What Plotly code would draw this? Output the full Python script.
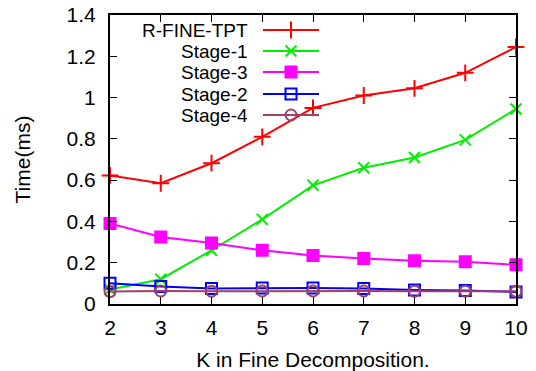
import plotly.graph_objects as go

k_values = [2, 3, 4, 5, 6, 7, 8, 9, 10]
r_fine_tpt = [0.623, 0.585, 0.682, 0.81, 0.95, 1.01, 1.045, 1.12, 1.245]
stage1 = [0.07, 0.12, 0.26, 0.41, 0.575, 0.66, 0.71, 0.795, 0.945]
stage3 = [0.39, 0.325, 0.295, 0.26, 0.235, 0.22, 0.21, 0.205, 0.19]
stage2 = [0.1, 0.085, 0.075, 0.077, 0.077, 0.075, 0.068, 0.065, 0.058]
stage4 = [0.06, 0.063, 0.062, 0.063, 0.063, 0.063, 0.062, 0.062, 0.062]
y_ticks = [0, 0.2, 0.4, 0.6, 0.8, 1, 1.2, 1.4]
y_tick_labels = ["0", "0.2", "0.4", "0.6", "0.8", "1", "1.2", "1.4"]

series = [
    ("R-FINE-TPT", r_fine_tpt, "#ff0000", "cross-thin-open", 12),
    ("Stage-1", stage1, "#00ee00", "x-thin-open", 11),
    ("Stage-3", stage3, "#ff00ff", "square", 11),
    ("Stage-2", stage2, "#0000ff", "square-open", 11),
    ("Stage-4", stage4, "#a0406a", "circle-open", 11),
]

FONT = "Liberation Sans, Arial, sans-serif"
fig = go.Figure()

for name, vals, col, sym, sz in series:
    fig.add_trace(go.Scatter(
        x=k_values, y=vals, mode="lines+markers", name=name,
        line=dict(color=col, width=2),
        marker=dict(symbol=sym, size=sz, color=col,
                    line=dict(color=col, width=2)),
        showlegend=False, cliponaxis=False))

# gnuplot-style key: text right-aligned with sample on the right (pixel axes)
legend_rows = [30, 51, 72, 94, 115]
annotations = []
for (name, vals, col, sym, sz), yy in zip(series, legend_rows):
    fig.add_trace(go.Scatter(
        x=[263, 319], y=[yy, yy], mode="lines", xaxis="x2", yaxis="y2",
        line=dict(color=col, width=2), showlegend=False, hoverinfo="skip"))
    fig.add_trace(go.Scatter(
        x=[291], y=[yy], mode="markers", xaxis="x2", yaxis="y2",
        marker=dict(symbol=sym, size=sz, color=col, line=dict(color=col, width=2)),
        showlegend=False, hoverinfo="skip"))
    annotations.append(dict(x=249, y=yy, xref="x2", yref="y2", text=name,
                            showarrow=False, xanchor="right", yanchor="middle",
                            borderpad=0,
                            font=dict(family=FONT, size=19, color="black")))

fig.update_layout(
    width=536, height=371,
    margin=dict(l=110, r=20, t=15, b=67),
    paper_bgcolor="white", plot_bgcolor="white",
    font=dict(family=FONT, size=21, color="black"),
    annotations=annotations,
    xaxis=dict(range=[2, 10], tickvals=k_values, ticks="inside", ticklen=7,
               tickwidth=1, tickcolor="black", showline=True, linecolor="black",
               linewidth=2, mirror="ticks", showgrid=False, zeroline=False,
               ticklabelstandoff=4, automargin=False,
               title=dict(text="K in Fine Decomposition.", standoff=14,
                          font=dict(size=21)),
               tickfont=dict(size=21)),
    yaxis=dict(range=[0, 1.4], tickvals=y_ticks, ticktext=y_tick_labels,
               ticks="inside", ticklen=7, tickwidth=1, tickcolor="black",
               showline=True, linecolor="black", linewidth=2, mirror="ticks",
               showgrid=False, zeroline=False, ticklabelstandoff=8,
               automargin=False,
               title=dict(text="Time(ms)", standoff=30, font=dict(size=21)),
               tickfont=dict(size=21)),
    xaxis2=dict(range=[110, 516], overlaying="x", visible=False, fixedrange=True),
    yaxis2=dict(range=[304, 15], overlaying="y", visible=False, fixedrange=True),
)

fig.write_html("out.html")
